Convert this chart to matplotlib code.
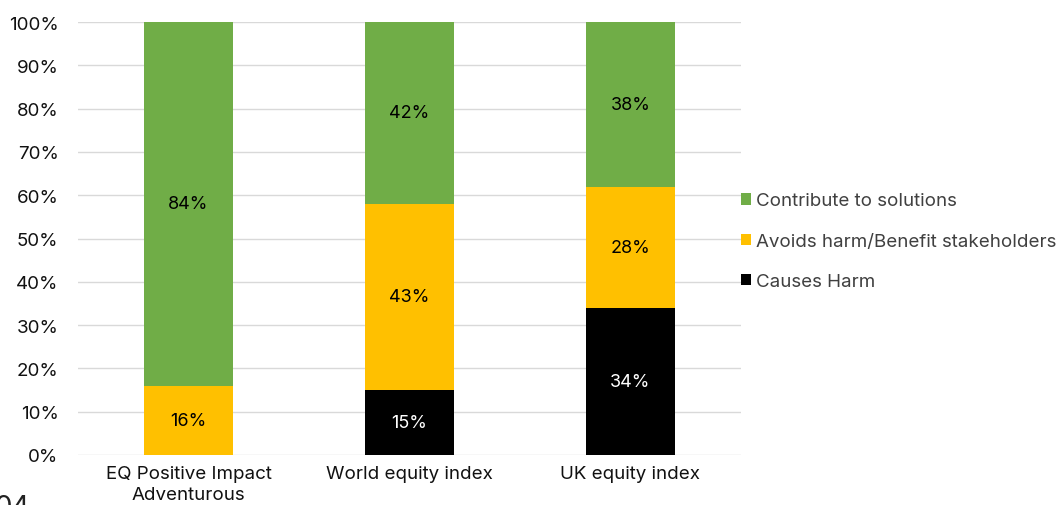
import numpy as np
import matplotlib.pyplot as plt
from matplotlib.ticker import PercentFormatter

plt.rcParams['font.family'] = ['Inter', 'DejaVu Sans']

# Data
categories = ["EQ Positive Impact\nAdventurous", "World equity index", "UK equity index"]
causes_harm = [0, 15, 34]
avoids_harm = [16, 43, 28]
contribute = [84, 42, 38]

series = ["Causes Harm", "Avoids harm/Benefit stakeholders", "Contribute to solutions"]
colors = ["#000000", "#FFC000", "#70AD47"]
text_colors = ["white", "black", "black"]

fig = plt.figure(figsize=(10.63, 5.06), dpi=100)
ax = fig.add_axes([78 / 1063, 50 / 506, 663 / 1063, 433 / 506])

x = np.arange(len(categories))
bottom = np.zeros(len(categories))
handles = []
for vals, name, col, tc in zip([causes_harm, avoids_harm, contribute], series, colors, text_colors):
    vals = np.array(vals, dtype=float)
    h = ax.bar(x, vals, 0.4, bottom=bottom, color=col, label=name, zorder=3)
    handles.append(h)
    for xi, v, b in zip(x, vals, bottom):
        if v > 0:
            ax.text(xi, b + v / 2, f"{int(v)}%", ha="center", va="center",
                    color=tc, fontsize=13, zorder=4)
    bottom += vals

ax.set_xlim(-0.5, 2.5)
ax.set_ylim(0, 100)
ax.set_yticks(np.arange(0, 101, 10))
ax.yaxis.set_major_formatter(PercentFormatter(decimals=0))
ax.set_xticks(x)
ax.set_xticklabels(categories, fontsize=13.5, linespacing=1.3)
ax.tick_params(axis="y", labelsize=13.5, length=0, pad=14, labelcolor="#111111")
ax.tick_params(axis="x", length=0, pad=7, labelcolor="#111111")
ax.grid(axis="y", color="#D9D9D9", linewidth=1, zorder=0)
for s in ax.spines.values():
    s.set_visible(False)

leg = fig.legend(handles[::-1], series[::-1], loc="upper left",
                 bbox_to_anchor=(733 / 1063, 1 - 186 / 506), frameon=False,
                 fontsize=13.5, handlelength=0.55, handleheight=0.55,
                 handletextpad=0.3, labelspacing=1.25, labelcolor="#404040",
                 borderaxespad=0)

fig.text(-0.005, -0.03, "04", fontsize=20, color="#222222", va="bottom")

fig.savefig("out.png", dpi=100)
